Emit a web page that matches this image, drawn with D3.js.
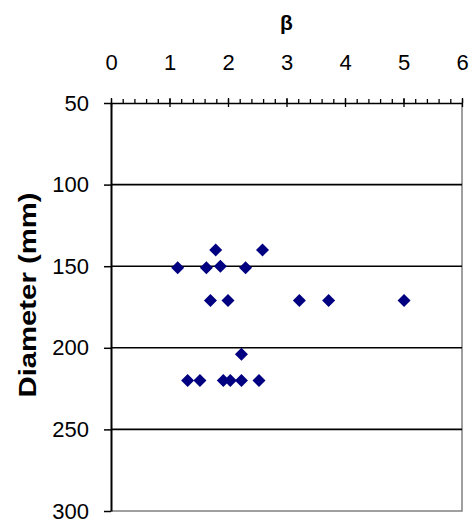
<!DOCTYPE html>
<html>
<head>
<meta charset="utf-8">
<script src="https://cdn.jsdelivr.net/npm/d3@7"></script>
<style>
  body { margin: 0; background: #fff; }
  text { font-family: "Liberation Sans", Arial, sans-serif; }
</style>
</head>
<body>
<div id="chart"></div>
<script>
// data
const beta = [1.79, 2.59, 1.14, 1.63, 1.87, 2.30, 1.70, 2.00, 3.22, 3.72, 5.01, 2.23,
              1.31, 1.52, 1.92, 2.04, 2.23, 2.53];
const diameter = [140, 140, 151, 151, 150, 151, 171, 171, 171, 171, 171, 204,
                  220, 220, 220, 220, 220, 220];
const xTicks = [0, 1, 2, 3, 4, 5, 6];
const yTicks = [50, 100, 150, 200, 250, 300];

// constants
const w = 473;
const h = 522;
const margin = { top: 103, right: 11, bottom: 11, left: 111 };
const markerColor = "#000080";

const svg = d3.select("#chart")
  .append("svg")
  .attr("width", w)
  .attr("height", h);

// scales
const xScale = d3.scaleLinear()
  .domain([0, 6])
  .range([margin.left, w - margin.right]);

const yScale = d3.scaleLinear()
  .domain([50, 300])
  .range([margin.top, h - margin.bottom]);

// plot border (right + bottom are grey)
svg.append("path")
  .attr("d", `M${xScale(6)},${yScale(50)}V${yScale(300)}H${xScale(0)}`)
  .attr("fill", "none")
  .attr("stroke", "#808080")
  .attr("stroke-width", 1.5);

// gridlines
svg.append("g")
  .selectAll("line")
  .data(yTicks.filter(d => d > 50 && d < 300))
  .enter()
  .append("line")
  .attr("x1", xScale(0))
  .attr("x2", xScale(6))
  .attr("y1", d => yScale(d))
  .attr("y2", d => yScale(d))
  .attr("stroke", "#000")
  .attr("stroke-width", 1.6);

// x axis (top) with minor ticks
const xMinor = svg.append("g")
  .attr("transform", `translate(0,${yScale(50)})`)
  .call(d3.axisTop(xScale).tickValues(d3.range(0, 6.01, 0.2)).tickSize(4).tickFormat(""));
xMinor.selectAll("path").remove();
xMinor.selectAll("line").attr("stroke-width", 1.3);

const xAxis = svg.append("g")
  .attr("transform", `translate(0,${yScale(50)})`)
  .call(d3.axisTop(xScale).tickValues(xTicks).tickFormat(d3.format("d"))
    .tickSizeInner(5).tickSizeOuter(0).tickPadding(28));
xAxis.select(".domain").attr("stroke-width", 1.6);
xAxis.selectAll(".tick line").attr("y2", -5).attr("y1", 4).attr("stroke-width", 1.3);
xAxis.selectAll("text").style("font-size", "22px").attr("fill", "#000");

// y axis
const yAxis = svg.append("g")
  .attr("transform", `translate(${xScale(0)},0)`)
  .call(d3.axisLeft(yScale).tickValues(yTicks).tickFormat(d3.format("d"))
    .tickSizeInner(7).tickSizeOuter(0).tickPadding(15));
yAxis.select(".domain").attr("stroke-width", 2);
yAxis.selectAll(".tick line").attr("stroke-width", 1.5);
yAxis.selectAll("text").style("font-size", "22px").attr("fill", "#000");

// axis titles
svg.append("text")
  .attr("x", xScale(3))
  .attr("y", 30)
  .attr("text-anchor", "middle")
  .style("font-size", "21px")
  .attr("font-weight", "bold")
  .text("β");

svg.append("text")
  .attr("transform", `translate(36,${(yScale(50) + yScale(300)) / 2 - 12}) rotate(-90)`)
  .attr("text-anchor", "middle")
  .style("font-size", "23px")
  .attr("font-weight", "bold")
  .attr("textLength", 205)
  .attr("lengthAdjust", "spacingAndGlyphs")
  .text("Diameter (mm)");

// points
svg.append("g")
  .selectAll("path")
  .data(beta.map((b, i) => [b, diameter[i]]))
  .enter()
  .append("path")
  .attr("transform", d => `translate(${xScale(d[0])},${yScale(d[1])})`)
  .attr("d", "M0,-6.5L6.5,0L0,6.5L-6.5,0Z")
  .attr("fill", markerColor);
</script>
</body>
</html>
